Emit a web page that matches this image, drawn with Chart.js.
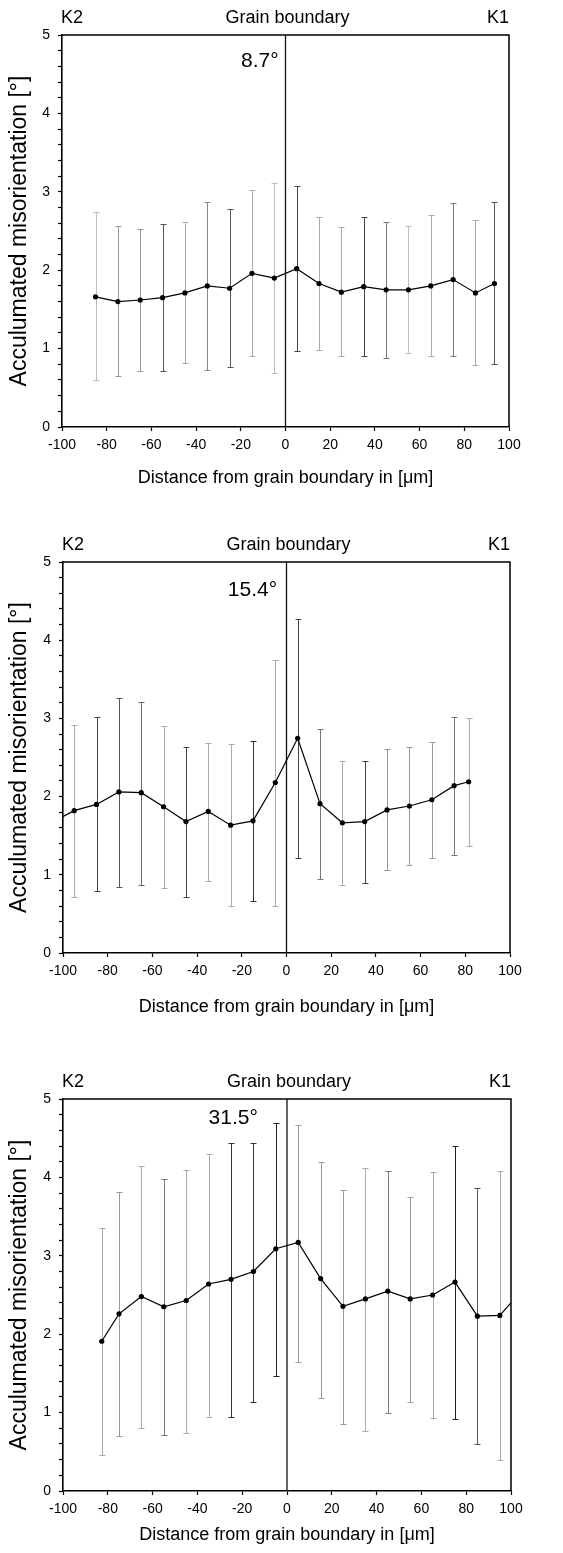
<!DOCTYPE html>
<html lang="en">
<head>
<meta charset="utf-8">
<title>Acculumated misorientation across grain boundaries</title>
<script src="https://cdn.jsdelivr.net/npm/chart.js"></script>
<style>
    html, body { margin: 0; padding: 0; background: #fff; }
    body { width: 563px; height: 1553px; position: relative; overflow: hidden; }
    canvas { position: absolute; left: 0; }
</style>
</head>
<body>
<canvas id="panel1" width="563" height="500" style="top:0px"></canvas>
<canvas id="panel2" width="563" height="520" style="top:510px"></canvas>
<canvas id="panel3" width="563" height="513" style="top:1040px"></canvas>
<script>
// ---- data ----
// panel 1, boundary misorientation 8.7°
const dist1  = [-85, -75, -65, -55, -45, -35, -25, -15, -5, 5, 15, 25, 35, 45, 55, 65, 75, 85, 93.5];
const mean1  = [1.66, 1.60, 1.62, 1.65, 1.71, 1.80, 1.77, 1.96, 1.90, 2.02, 1.83, 1.72, 1.79, 1.75, 1.75, 1.80, 1.88, 1.71, 1.83];
const upper1 = [2.74, 2.56, 2.52, 2.59, 2.62, 2.87, 2.78, 3.02, 3.11, 3.07, 2.68, 2.55, 2.68, 2.62, 2.56, 2.71, 2.86, 2.64, 2.87];
const lower1 = [0.60, 0.65, 0.72, 0.71, 0.81, 0.73, 0.77, 0.90, 0.69, 0.97, 0.98, 0.90, 0.90, 0.88, 0.94, 0.90, 0.91, 0.79, 0.80];
const barColors1 = ['#bbb', '#999', '#999', '#555', '#aaa', '#888', '#555', '#aaa', '#bbb', '#444',
                    '#aaa', '#aaa', '#444', '#777', '#bbb', '#aaa', '#777', '#aaa', '#555'];

// panel 2, boundary misorientation 15.4° (first point lies left of the axis)
const dist2  = [-105, -95, -85, -75, -65, -55, -45, -35, -25, -15, -5, 5, 15, 25, 35, 45, 55, 65, 75, 81.5];
const mean2  = [1.67, 1.82, 1.90, 2.06, 2.05, 1.87, 1.68, 1.81, 1.635, 1.69, 2.18, 2.745, 1.91, 1.665, 1.68, 1.83, 1.88, 1.96, 2.14, 2.19];
const upper2 = [null, 2.91, 3.02, 3.26, 3.21, 2.90, 2.63, 2.69, 2.67, 2.715, 3.75, 4.27, 2.87, 2.46, 2.46, 2.61, 2.63, 2.70, 3.02, 3.00];
const lower2 = [null, 0.72, 0.79, 0.85, 0.87, 0.83, 0.72, 0.92, 0.60, 0.66, 0.60, 1.21, 0.94, 0.87, 0.89, 1.06, 1.12, 1.21, 1.25, 1.37];
const barColors2 = ['#000', '#aaa', '#444', '#555', '#666', '#aaa', '#444', '#aaa', '#aaa', '#333', '#aaa',
                    '#444', '#777', '#aaa', '#444', '#999', '#999', '#999', '#777', '#aaa'];

// panel 3, boundary misorientation 31.5° (last point lies right of the axis)
const dist3  = [-82.7, -75, -65, -55, -45, -35, -25, -15, -5, 5, 15, 25, 35, 45, 55, 65, 75, 85, 95, 105];
const mean3  = [1.91, 2.26, 2.48, 2.35, 2.43, 2.64, 2.70, 2.80, 3.09, 3.17, 2.71, 2.355, 2.45, 2.55, 2.45, 2.50, 2.665, 2.23, 2.24, 2.56];
const upper3 = [3.36, 3.82, 4.14, 3.98, 4.10, 4.30, 4.44, 4.44, 4.69, 4.67, 4.20, 3.84, 4.12, 4.08, 3.75, 4.07, 4.40, 3.86, 4.08, null];
const lower3 = [0.465, 0.70, 0.80, 0.71, 0.74, 0.95, 0.95, 1.13, 1.47, 1.65, 1.19, 0.86, 0.76, 1.00, 1.13, 0.93, 0.92, 0.605, 0.40, null];
const barColors3 = ['#aaa', '#999', '#aaa', '#777', '#aaa', '#aaa', '#333', '#333', '#222', '#999',
                    '#999', '#999', '#aaa', '#777', '#999', '#aaa', '#222', '#555', '#aaa', '#000'];

const xTicks = [-100, -80, -60, -40, -20, 0, 20, 40, 60, 80, 100];
const yTickLabels = [0, 1, 2, 3, 4, 5];

const FONT = "'Liberation Sans', Arial, sans-serif";

// error bars, frame, boundary line and labels
function decorations(dist, upper, lower, colors, angleText, angleAt) {
    return {
        id: 'decorations',
        beforeDatasetsDraw(chart) {
            const ctx = chart.ctx, a = chart.chartArea, x = chart.scales.x, y = chart.scales.y;
            ctx.save();
            ctx.beginPath();
            ctx.rect(a.left, a.top, a.right - a.left, a.bottom - a.top);
            ctx.clip();
            ctx.lineWidth = 1;
            for (let i = 0; i < dist.length; i++) {
                if (upper[i] == null || lower[i] == null) continue;
                const px = Math.round(x.getPixelForValue(dist[i])) + 0.5;
                const hi = Math.round(y.getPixelForValue(upper[i])) + 0.5;
                const lo = Math.round(y.getPixelForValue(lower[i])) + 0.5;
                ctx.strokeStyle = colors[i];
                ctx.beginPath();
                ctx.moveTo(px, hi); ctx.lineTo(px, lo);
                ctx.moveTo(px - 3, hi); ctx.lineTo(px + 3, hi);
                ctx.moveTo(px - 3, lo); ctx.lineTo(px + 3, lo);
                ctx.stroke();
            }
            ctx.restore();

            // grain boundary at 0
            const gx = x.getPixelForValue(0);
            ctx.save();
            ctx.strokeStyle = '#111';
            ctx.lineWidth = 1.3;
            ctx.beginPath();
            ctx.moveTo(gx, a.top); ctx.lineTo(gx, a.bottom);
            ctx.stroke();
            ctx.restore();
        },
        afterDraw(chart) {
            const ctx = chart.ctx, a = chart.chartArea, x = chart.scales.x, y = chart.scales.y;
            ctx.save();
            ctx.strokeStyle = '#000';
            ctx.lineWidth = 1.5;
            ctx.beginPath();
            ctx.moveTo(a.left, a.top); ctx.lineTo(a.right, a.top); ctx.lineTo(a.right, a.bottom);
            ctx.stroke();

            ctx.fillStyle = '#000';
            ctx.textBaseline = 'middle';
            ctx.font = '18px ' + FONT;
            ctx.textAlign = 'left';
            ctx.fillText('K2', a.left - 1, a.top - 17);
            ctx.textAlign = 'center';
            ctx.fillText('Grain boundary', x.getPixelForValue(0) + 2, a.top - 17);
            ctx.textAlign = 'right';
            ctx.fillText('K1', a.right, a.top - 17);

            ctx.font = '21px ' + FONT;
            ctx.fillText(angleText, x.getPixelForValue(angleAt[0]), y.getPixelForValue(angleAt[1]));
            ctx.restore();
        }
    };
}

function makeChart(id, dist, mean, upper, lower, colors, angleText, angleAt, box) {
    const ctx = document.getElementById(id).getContext('2d');
    return new Chart(ctx, {
        type: 'line',
        data: {
            datasets: [{
                data: dist.map(function(d, i) { return {x: d, y: mean[i]}; }),
                borderColor: '#000',
                borderWidth: 1.2,
                pointRadius: 2.6,
                pointBackgroundColor: '#000',
                pointBorderWidth: 0,
                tension: 0
            }]
        },
        options: {
            responsive: false,
            animation: false,
            devicePixelRatio: 1,
            layout: {
                padding: {top: box.top, right: 563 - box.right, left: 0, bottom: 0}
            },
            plugins: {
                legend: {display: false},
                tooltip: {enabled: false}
            },
            scales: {
                x: {
                    type: 'linear',
                    min: -100,
                    max: 100,
                    afterBuildTicks: function(scale) {
                        scale.ticks = xTicks.map(function(v) { return {value: v}; });
                    },
                    afterFit: function(scale) { scale.height = box.xAxisH; },
                    grid: {drawOnChartArea: false, drawTicks: true, tickLength: 4, color: '#000', tickWidth: 1.2},
                    border: {display: true, color: '#000', width: 1.6},
                    ticks: {color: '#000', padding: 6, maxRotation: 0, autoSkip: false, font: {family: FONT, size: 14}},
                    title: {
                        display: true,
                        text: 'Distance from grain boundary in [μm]',
                        color: '#000',
                        font: {family: FONT, size: 18},
                        padding: {top: 0, bottom: box.xTitlePad}
                    }
                },
                y: {
                    type: 'linear',
                    min: 0,
                    max: 5,
                    afterBuildTicks: function(scale) {
                        const t = [];
                        for (let k = 0; k <= 25; k++) t.push({value: k / 5});
                        scale.ticks = t;
                    },
                    afterFit: function(scale) { scale.width = box.left; },
                    grid: {drawOnChartArea: false, drawTicks: true, tickLength: 4, color: '#000', tickWidth: 1.2},
                    border: {display: true, color: '#000', width: 1.6},
                    ticks: {
                        color: '#000',
                        padding: 8,
                        autoSkip: false,
                        font: {family: FONT, size: 14},
                        callback: function(v) {
                            const r = Math.round(v);
                            return (Math.abs(v - r) < 1e-6 && yTickLabels.indexOf(r) >= 0) ? String(r) : '';
                        }
                    },
                    title: {
                        display: true,
                        text: 'Acculumated misorientation [°]',
                        color: '#000',
                        font: {family: FONT, size: 23},
                        padding: {top: 6, bottom: 0}
                    }
                }
            }
        },
        plugins: [decorations(dist, upper, lower, colors, angleText, angleAt)]
    });
}

makeChart('panel1', dist1, mean1, upper1, lower1, barColors1, '8.7°', [-3.1, 4.67],
    {top: 35, right: 509, left: 62, xAxisH: 73, xTitlePad: 11});
makeChart('panel2', dist2, mean2, upper2, lower2, barColors2, '15.4°', [-4.2, 4.64],
    {top: 52, right: 510, left: 63, xAxisH: 77, xTitlePad: 12});
makeChart('panel3', dist3, mean3, upper3, lower3, barColors3, '31.5°', [-13, 4.75],
    {top: 59, right: 511, left: 63, xAxisH: 62, xTitlePad: 7});
</script>
</body>
</html>
